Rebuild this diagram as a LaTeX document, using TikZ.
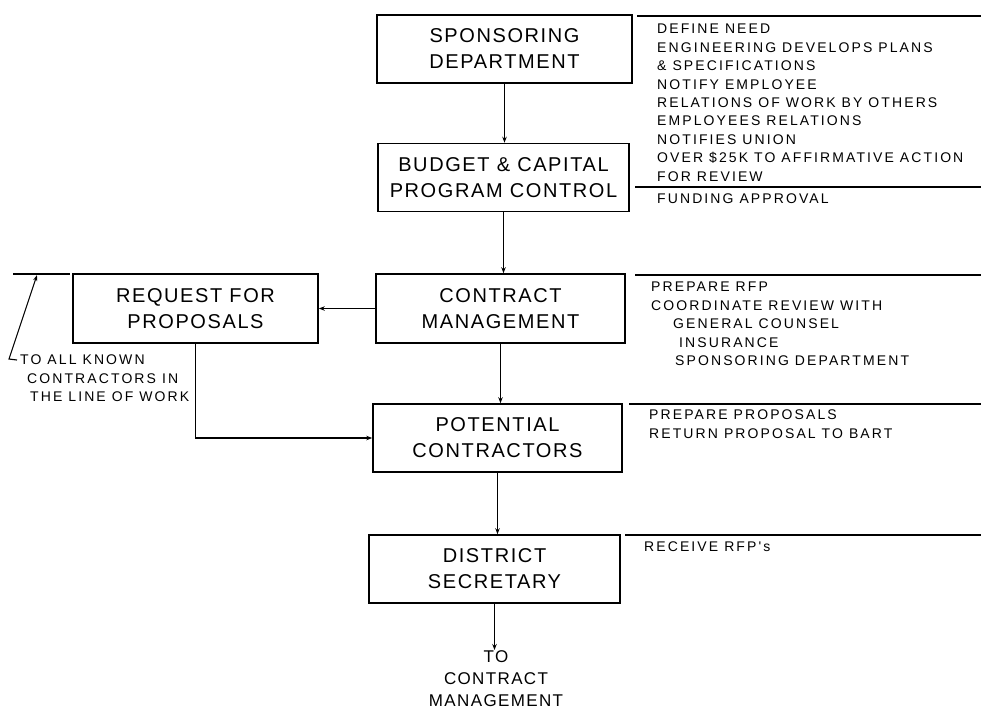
\documentclass[tikz,border=0pt]{standalone}
\usepackage{fontspec}
\setmainfont{Liberation Sans}
\newfontfamily\boxfont[LetterSpace=8]{Liberation Sans}
\newfontfamily\notefont[LetterSpace=15]{Liberation Sans}
\usetikzlibrary{arrows.meta}
\begin{document}
\begin{tikzpicture}[x=1pt,y=-1pt,
  stage/.style={draw,line width=1.6pt,minimum height=68pt,inner sep=0pt,
    align=center,font=\boxfont\fontsize{20}{26}\selectfont},
  note/.style={anchor=north west,align=left,inner sep=0pt,
    font=\notefont\fontsize{14}{18.4}\selectfont},
  flow/.style={line width=1.2pt,-{Stealth[length=6pt,width=4.5pt]}},
  rule/.style={line width=1.2pt}]
\useasboundingbox (0,0) rectangle (981,710);

% process stages
\node[stage,minimum width=255pt] (spons) at (504.5,49) {SPONSORING\\DEPARTMENT};
\node[stage,minimum width=251pt] (budget) at (503.5,177.5) {BUDGET \& CAPITAL\\PROGRAM CONTROL};
\node[stage,minimum width=249pt,minimum height=69pt] (contract) at (500.5,308.5) {CONTRACT\\MANAGEMENT};
\node[stage,minimum width=245pt,minimum height=69pt] (rfp) at (195.5,308.5) {REQUEST FOR\\PROPOSALS};
\node[stage,minimum width=249pt] (potential) at (497.5,438) {POTENTIAL\\CONTRACTORS};
\node[stage,minimum width=251pt] (district) at (494.5,569) {DISTRICT\\SECRETARY};
\node[anchor=north,align=center,inner sep=0pt,
  font=\boxfont\fontsize{17}{22}\selectfont] (tocm) at (496,650) {TO\\CONTRACT\\MANAGEMENT};

% flow between stages
\draw[flow] (spons.south) -- (spons.south |- budget.north);
\draw[flow] (budget.south) -- (budget.south |- contract.north);
\draw[flow] (contract.west) -- (rfp.east);
\draw[flow] (contract.south) -- (contract.south |- potential.north);
\draw[flow] (rfp.south) |- (potential.west);
\draw[flow] (potential.south) -- (potential.south |- district.north);
\draw[flow] (district.south) -- (district.south |- tocm.north);

% rules heading each block of duties
\coordinate (r1a) at (637,16);  \coordinate (r1b) at (981,16);
\coordinate (r2a) at (635,187); \coordinate (r2b) at (981,187);
\coordinate (r3a) at (635,275); \coordinate (r3b) at (981,275);
\coordinate (r4a) at (629,404); \coordinate (r4b) at (981,404);
\coordinate (r5a) at (625,535); \coordinate (r5b) at (981,535);
\draw[rule] (r1a) -- (r1b);
\draw[rule] (r2a) -- (r2b);
\draw[rule] (r3a) -- (r3b);
\draw[rule] (r4a) -- (r4b);
\draw[rule] (r5a) -- (r5b);

% duties
\node[note] (n1) at (657,24) {DEFINE NEED\\ENGINEERING DEVELOPS PLANS\\\& SPECIFICATIONS\\NOTIFY EMPLOYEE\\RELATIONS OF WORK BY OTHERS\\EMPLOYEES RELATIONS\\NOTIFIES UNION\\OVER \$25K TO AFFIRMATIVE ACTION\\FOR REVIEW};
\node[note] (n2) at (657,194) {FUNDING APPROVAL};
\node[note] (n3) at (651,282) {PREPARE RFP\\COORDINATE REVIEW WITH\\\hspace*{22pt}GENERAL COUNSEL\\\hspace*{28pt}INSURANCE\\\hspace*{24pt}SPONSORING DEPARTMENT};
\node[note] (n4) at (649,410) {PREPARE PROPOSALS\\RETURN PROPOSAL TO BART};
\node[note] (n5) at (644,542) {RECEIVE RFP's};

% distribution note for the request for proposals
\coordinate (l1a) at (13,274); \coordinate (l1b) at (70,274);
\draw[rule] (l1a) -- (l1b);
\coordinate (hookend) at (17,360);
\coordinate (hookbend) at (9,359);
\coordinate (tip) at (37,275);
\draw[line width=1.1pt,-{Stealth[length=6pt,width=4pt]}] (hookend) -- (hookbend) -- (tip);
\node[note] (n6) at (20,355) {TO ALL KNOWN\\\hspace*{7pt}CONTRACTORS IN\\\hspace*{10pt}THE LINE OF WORK};
\end{tikzpicture}
\end{document}
